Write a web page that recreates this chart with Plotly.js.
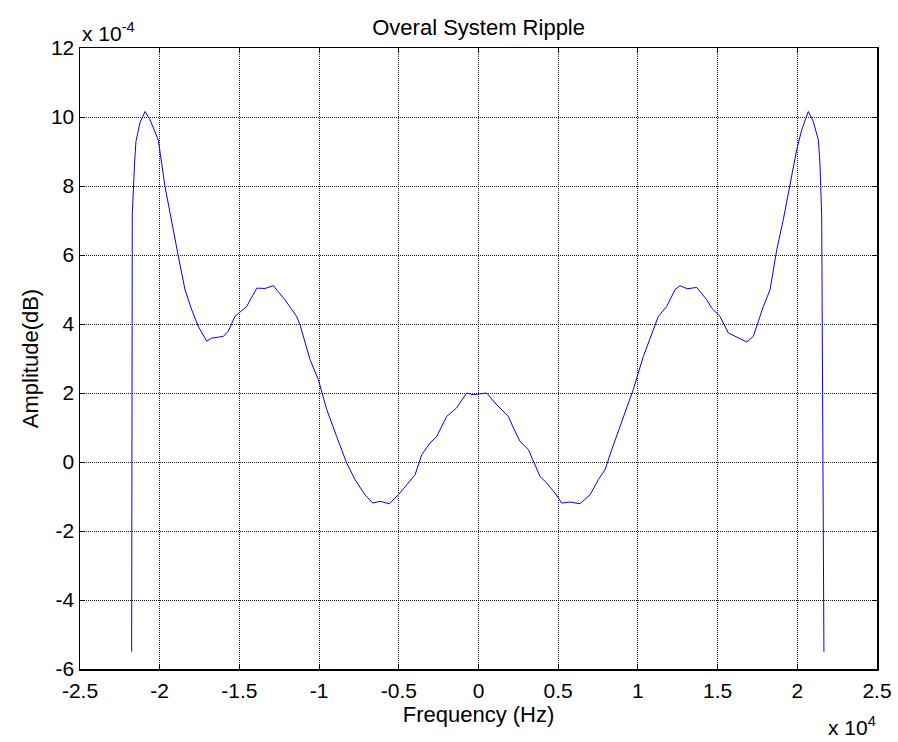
<!DOCTYPE html>
<html>
<head>
<meta charset="utf-8">
<script src="https://cdn.plot.ly/plotly-3.0.1.min.js"></script>
<style>html,body{margin:0;padding:0;background:#fff;}#chart{width:898px;height:742px;}</style>
</head>
<body>
<div id="chart"></div>
<script>
// Frequency in units of 1e4 Hz, amplitude in units of 1e-4 dB
const freq = [-2.176,-2.172,-2.157,-2.149,-2.124,-2.092,-2.061,-2.009,-1.967,-1.925,-1.883,-1.841,-1.799,-1.758,-1.705,-1.674,-1.601,-1.570,-1.528,-1.454,-1.391,-1.339,-1.287,-1.214,-1.172,-1.141,-1.120,-1.057,-1.005,-0.952,-0.890,-0.827,-0.775,-0.712,-0.664,-0.618,-0.560,-0.503,-0.450,-0.398,-0.356,-0.304,-0.262,-0.200,-0.137,-0.074,-0.033,0.030,0.051,0.104,0.146,0.187,0.229,0.260,0.313,0.344,0.386,0.428,0.480,0.522,0.574,0.637,0.700,0.752,0.794,0.836,0.877,0.919,0.971,1.034,1.097,1.128,1.181,1.233,1.264,1.310,1.369,1.432,1.463,1.515,1.567,1.620,1.683,1.724,1.787,1.829,1.871,1.912,1.954,1.996,2.028,2.069,2.100,2.132,2.142,2.153,2.167];
const amp = [-5.5,7.2,8.71,9.29,9.83,10.16,9.92,9.34,7.99,6.93,5.96,4.99,4.41,3.93,3.50,3.59,3.64,3.79,4.22,4.51,5.04,5.03,5.11,4.70,4.41,4.22,3.98,2.97,2.39,1.52,0.74,-0.03,-0.51,-0.95,-1.19,-1.14,-1.21,-0.95,-0.66,-0.37,0.21,0.55,0.74,1.32,1.57,2.0,1.95,2.0,2.0,1.71,1.50,1.32,0.89,0.60,0.36,0.02,-0.42,-0.61,-0.90,-1.19,-1.16,-1.21,-0.95,-0.51,-0.22,0.36,0.89,1.42,2.10,3.06,3.83,4.22,4.51,5.0,5.11,5.02,5.06,4.70,4.46,4.22,3.74,3.62,3.48,3.64,4.51,4.99,6.15,7.02,7.99,9.05,9.63,10.16,9.87,9.34,8.67,7.12,-5.5];
const xTicks = [-2.5,-2,-1.5,-1,-0.5,0,0.5,1,1.5,2,2.5];
const xTickLabels = ["-2.5","-2","-1.5","-1","-0.5","0","0.5","1","1.5","2","2.5"];
const yTicks = [-6,-4,-2,0,2,4,6,8,10,12];
const yTickLabels = ["-6","-4","-2","0","2","4","6","8","10","12"];

const font = {family: "Liberation Sans, Arial, sans-serif", color: "#000"};

const trace = {
  x: freq, y: amp, type: "scatter", mode: "lines",
  line: {color: "#0000ff", width: 1}, hoverinfo: "skip"
};

const axisCommon = {
  showline: true, linecolor: "#000", linewidth: 1.5, mirror: "ticks",
  ticks: "inside", ticklen: 5, tickcolor: "#000", tickwidth: 1,
  showgrid: true, gridcolor: "#222", griddash: "1px,1px", gridwidth: 1,
  zeroline: false, tickfont: Object.assign({size: 21}, font)
};

const layout = {
  width: 898, height: 742,
  margin: {l: 80, r: 21, t: 48, b: 73},
  paper_bgcolor: "#fff", plot_bgcolor: "#fff",
  showlegend: false,
  title: {text: "Overal System Ripple", font: Object.assign({size: 22}, font), x: 0.533, xanchor: "center", y: 0.963, yanchor: "middle"},
  xaxis: Object.assign({}, axisCommon, {
    range: [-2.5, 2.5], tickmode: "array", tickvals: xTicks, ticktext: xTickLabels,
    ticklabelstandoff: 2,
    title: {text: "Frequency (Hz)", font: Object.assign({size: 22}, font), standoff: 4}
  }),
  yaxis: Object.assign({}, axisCommon, {
    range: [-6, 12], tickmode: "array", tickvals: yTicks, ticktext: yTickLabels,
    title: {text: "Amplitude(dB)", font: Object.assign({size: 22}, font), standoff: 6}
  }),
  annotations: [
    {text: "x 10<sup>-4</sup>", xref: "paper", yref: "paper", x: 0, y: 1, xanchor: "left", yanchor: "bottom", yshift: 1, showarrow: false, font: Object.assign({size: 21}, font)},
    {text: "x 10<sup>4</sup>", xref: "paper", yref: "paper", x: 1, y: 0, xanchor: "right", yanchor: "top", yshift: -42, xshift: 1, showarrow: false, font: Object.assign({size: 21}, font)}
  ]
};

Plotly.newPlot("chart", [trace], layout, {displayModeBar: false, staticPlot: true});
</script>
</body>
</html>
